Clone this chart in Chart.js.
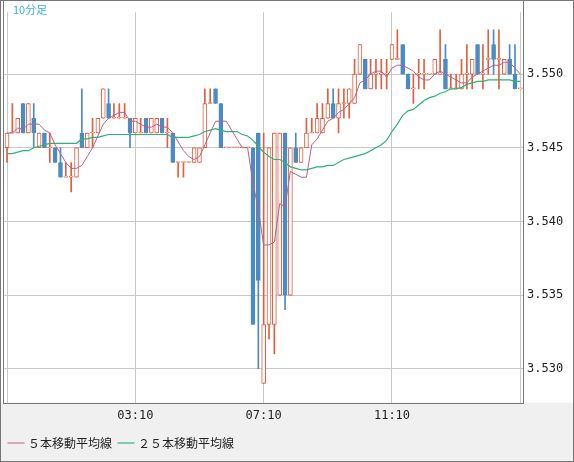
<!DOCTYPE html>
<html>
<head>
<meta charset="utf-8">
<script src="https://cdn.jsdelivr.net/npm/chart.js@4/dist/chart.umd.min.js"></script>
<style>
  html, body { margin: 0; padding: 0; background: #f0f0f0; }
  #wrap { position: relative; width: 574px; height: 462px; box-sizing: border-box; border: 1px solid #777; }
  canvas { display: block; }
</style>
</head>
<body>
<div id="wrap"><canvas id="c" width="572" height="460"></canvas></div>
<script>
// 10-minute candles, 23:10 .. 15:10
const opens  = [3.545,3.546,3.546,3.548,3.546,3.547,3.545,3.546,3.545,3.545,3.544,3.543,3.543,3.543,3.546,3.545,3.546,3.546,3.547,3.548,
                3.547,3.547,3.547,3.547,3.546,3.546,3.547,3.546,3.546,3.547,3.546,3.546,3.544,3.544,3.544,3.544,3.544,3.545,3.548,3.549,
                3.548,3.545,3.545,3.545,3.545,3.545,3.545,3.546,3.529,3.533,3.533,3.535,3.546,3.535,3.545,3.544,3.545,3.546,3.546,3.546,
                3.547,3.548,3.547,3.548,3.548,3.548,3.550,3.551,3.549,3.550,3.550,3.550,3.551,3.551,3.552,3.550,3.549,3.550,3.550,3.550,
                3.550,3.550,3.551,3.549,3.549,3.549,3.550,3.550,3.552,3.550,3.551,3.552,3.551,3.550,3.551,3.550,3.549];
const highs  = [3.546,3.548,3.547,3.548,3.548,3.548,3.546,3.546,3.546,3.545,3.545,3.544,3.544,3.545,3.549,3.546,3.547,3.547,3.549,3.549,
                3.548,3.548,3.548,3.547,3.547,3.547,3.547,3.547,3.547,3.547,3.547,3.546,3.544,3.544,3.544,3.545,3.545,3.549,3.549,3.549,
                3.548,3.545,3.545,3.545,3.545,3.545,3.545,3.546,3.546,3.545,3.546,3.546,3.546,3.545,3.546,3.545,3.547,3.547,3.548,3.548,
                3.549,3.549,3.549,3.549,3.549,3.551,3.552,3.551,3.551,3.551,3.551,3.551,3.552,3.553,3.552,3.550,3.550,3.551,3.551,3.550,
                3.551,3.553,3.552,3.550,3.550,3.551,3.552,3.551,3.552,3.552,3.553,3.553,3.553,3.551,3.552,3.552,3.549];
const lows   = [3.544,3.546,3.546,3.546,3.546,3.545,3.545,3.545,3.544,3.544,3.543,3.543,3.542,3.543,3.545,3.545,3.545,3.546,3.547,3.547,
                3.547,3.547,3.547,3.545,3.546,3.546,3.546,3.546,3.546,3.546,3.545,3.544,3.543,3.543,3.544,3.544,3.544,3.545,3.548,3.548,
                3.545,3.545,3.545,3.545,3.545,3.545,3.533,3.530,3.529,3.532,3.531,3.535,3.534,3.535,3.544,3.544,3.545,3.546,3.546,3.546,
                3.547,3.547,3.546,3.547,3.547,3.548,3.550,3.549,3.549,3.549,3.549,3.549,3.551,3.551,3.550,3.549,3.548,3.549,3.549,3.550,
                3.550,3.550,3.549,3.549,3.549,3.549,3.549,3.549,3.550,3.549,3.550,3.550,3.549,3.550,3.550,3.549,3.549];
const closes = [3.546,3.546,3.547,3.546,3.548,3.546,3.546,3.545,3.545,3.544,3.543,3.543,3.543,3.545,3.545,3.546,3.546,3.547,3.549,3.547,
                3.547,3.547,3.547,3.546,3.547,3.546,3.546,3.547,3.547,3.546,3.546,3.544,3.544,3.544,3.544,3.545,3.545,3.548,3.548,3.548,
                3.545,3.545,3.545,3.545,3.545,3.545,3.533,3.536,3.533,3.545,3.546,3.546,3.535,3.545,3.544,3.545,3.546,3.546,3.547,3.547,
                3.548,3.547,3.548,3.548,3.549,3.550,3.552,3.549,3.550,3.550,3.550,3.550,3.552,3.551,3.550,3.549,3.549,3.550,3.550,3.550,
                3.551,3.550,3.549,3.549,3.549,3.550,3.550,3.551,3.550,3.550,3.551,3.551,3.551,3.551,3.550,3.549,3.549];
const ma25   = [3.5446,3.5446,3.5447,3.5448,3.5448,3.5450,3.5451,3.5452,3.5453,3.5453,3.5453,3.5453,3.5453,3.5453,3.5456,3.5456,3.5457,3.5457,3.5458,3.5459,
                3.5459,3.5459,3.5459,3.5459,3.5459,3.5459,3.5459,3.5459,3.5459,3.5459,3.5459,3.5457,3.5457,3.5457,3.5457,3.5458,3.5459,3.5461,3.5462,3.5463,
                3.5462,3.5461,3.5461,3.5461,3.5459,3.5458,3.5455,3.5451,3.5447,3.5444,3.5442,3.5442,3.5440,3.5437,3.5436,3.5435,3.5435,3.5436,3.5437,3.5437,
                3.5438,3.5438,3.5440,3.5442,3.5443,3.5444,3.5445,3.5446,3.5448,3.5450,3.5452,3.5455,3.5461,3.5466,3.5472,3.5475,3.5476,3.5479,3.5482,3.5484,
                3.5485,3.5487,3.5488,3.5490,3.5490,3.5491,3.5493,3.5494,3.5495,3.5495,3.5496,3.5496,3.5496,3.5496,3.5496,3.5495,3.5495];
const yTicks = [3.530, 3.535, 3.540, 3.545, 3.550];
const shownTimes = ["03:10", "07:10", "11:10"];

const UP = "#e0603e", DOWN = "#4b8bc0";

const labels = closes.map((_, i) => {
  const m = 23 * 60 + 10 + i * 10;
  const h = Math.floor(m / 60) % 24, mm = m % 60;
  return String(h).padStart(2, "0") + ":" + String(mm).padStart(2, "0");
});

// 5-bar simple moving average of the closes
const ma5 = closes.map((_, i) => {
  const s = closes.slice(Math.max(0, i - 4), i + 1);
  return s.reduce((a, b) => a + b, 0) / s.length;
});

const isDown = (i) => closes[i] < opens[i];

const framePlugin = {
  id: "frame",
  beforeDraw(chart) {
    const { ctx, chartArea: a } = chart;
    ctx.save();
    ctx.fillStyle = "#fff";
    ctx.fillRect(0, 0, chart.width, a.bottom);
    ctx.restore();
  },
  afterDraw(chart) {
    const { ctx, chartArea: a } = chart;
    ctx.save();
    ctx.strokeStyle = "#777";
    ctx.lineWidth = 1;
    ctx.strokeRect(Math.round(a.left) - 0.5, -1, Math.round(a.right - a.left) + 1, Math.round(a.bottom) + 1.5);
    ctx.fillStyle = "#3aaee0";
    ctx.font = "11px 'Noto Sans CJK JP'";
    ctx.textBaseline = "top";
    ctx.fillText("10分足", 12, 3);
    ctx.restore();
  }
};

new Chart(document.getElementById("c"), {
  type: "bar",
  data: {
    labels,
    datasets: [
      {
        label: "５本移動平均線", type: "line", data: ma5, order: 0,
        borderColor: "#b8608a", backgroundColor: "#b8608a", borderWidth: 1, pointRadius: 0,
      },
      {
        label: "２５本移動平均線", type: "line", data: ma25, order: 0,
        borderColor: "#2fb27a", backgroundColor: "#2fb27a", borderWidth: 1.2, pointRadius: 0,
      },
      {
        label: "body", data: opens.map((o, i) => [o, closes[i]]), order: 1, grouped: false,
        backgroundColor: opens.map((_, i) => isDown(i) ? DOWN : "#fff"),
        borderColor: opens.map((_, i) => isDown(i) ? DOWN : UP),
        borderWidth: 1, borderSkipped: false, barThickness: 4, minBarLength: 1,
      },
      {
        label: "wick", data: lows.map((l, i) => [l, highs[i]]), order: 2, grouped: false,
        backgroundColor: opens.map((_, i) => isDown(i) ? DOWN : UP),
        borderWidth: 0, barThickness: 1,
      },
    ],
  },
  options: {
    responsive: false,
    animation: false,
    devicePixelRatio: 1,
    layout: { padding: { left: 1, right: 0, top: 0, bottom: 2 } },
    scales: {
      x: {
        offset: true,
        grid: {
          offset: false, drawTicks: false,
          color: (c) => (c.index % 24 === 0) ? "#c8c8c8" : "transparent",
        },
        border: { display: false },
        ticks: {
          autoSkip: false, maxRotation: 0, padding: 6,
          color: "#222", font: { family: "DejaVu Sans Mono", size: 12 },
          callback: (v, i) => shownTimes.includes(labels[i]) ? labels[i] : "",
        },
      },
      y: {
        position: "right", min: 3.5277, max: 3.5542,
        afterBuildTicks: (s) => { s.ticks = yTicks.map((v) => ({ value: v })); },
        grid: { color: "#c8c8c8", drawTicks: false },
        border: { display: false },
        ticks: {
          padding: 4, color: "#222", font: { family: "DejaVu Sans Mono", size: 12 },
          callback: (v) => v.toFixed(3),
        },
        afterFit: (s) => { s.width = 50; },
      },
    },
    plugins: {
      tooltip: { enabled: false },
      legend: {
        position: "bottom", align: "start",
        labels: {
          filter: (item) => item.datasetIndex < 2,
          usePointStyle: true, pointStyle: "line", boxWidth: 20, padding: 8,
          color: "#222", font: { family: "Noto Sans CJK JP", size: 12 },
        },
      },
    },
  },
  plugins: [framePlugin],
});
</script>
</body>
</html>
